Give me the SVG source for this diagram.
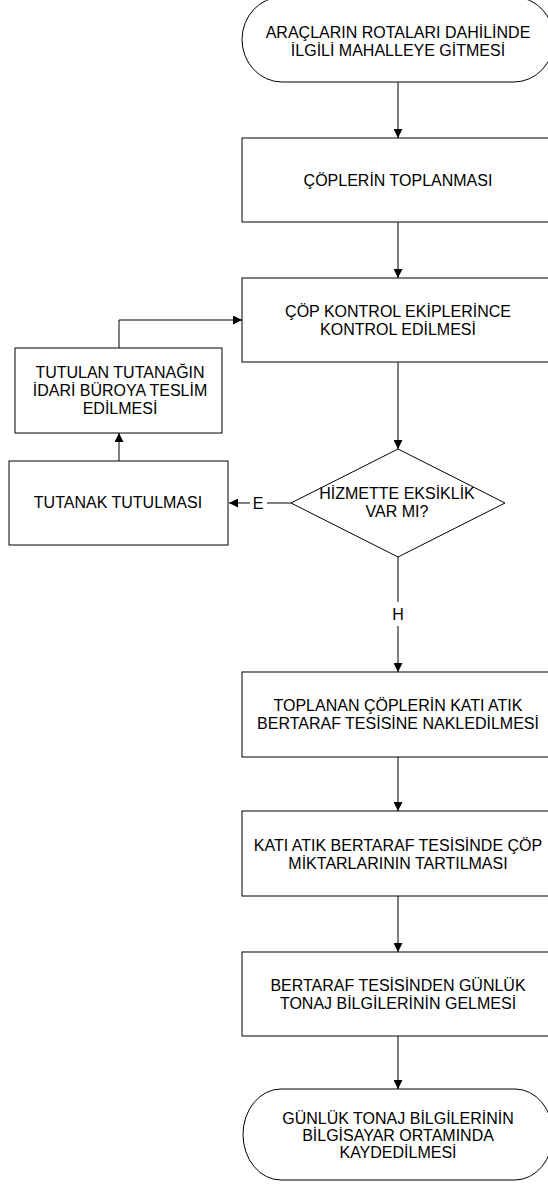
<svg xmlns="http://www.w3.org/2000/svg" width="548" height="1184" viewBox="0 0 548 1184">
<style>
.shape{fill:#fff;stroke:#000;stroke-width:1}
.t{font-family:"Liberation Sans",Arial,sans-serif;font-size:16px;fill:#000;text-anchor:middle}
.c{fill:none;stroke:#000;stroke-width:1}
</style>
<defs>
<marker id="ah" viewBox="0 0 10 10" refX="10" refY="5" markerWidth="10" markerHeight="9" markerUnits="userSpaceOnUse" orient="auto">
<path d="M0,0 L10,5 L0,10 z" fill="#000"/>
</marker>
</defs>
<rect width="548" height="1184" fill="#fff"/>
<g id="connectors">
<path class="c" d="M398,82 V138" marker-end="url(#ah)"/>
<path class="c" d="M398,222 V278" marker-end="url(#ah)"/>
<path class="c" d="M398,362 V449" marker-end="url(#ah)"/>
<path class="c" d="M291,503 H267"/>
<path class="c" d="M250,503 H229" marker-end="url(#ah)"/>
<text class="t" x="258" y="509">E</text>
<path class="c" d="M119,461 V433" marker-end="url(#ah)"/>
<path class="c" d="M119,348 V320 H242" marker-end="url(#ah)"/>
<path class="c" d="M398,557 V602"/>
<path class="c" d="M398,626 V672" marker-end="url(#ah)"/>
<text class="t" x="398" y="620">H</text>
<path class="c" d="M398,757 V811" marker-end="url(#ah)"/>
<path class="c" d="M398,896 V952" marker-end="url(#ah)"/>
<path class="c" d="M398,1036 V1089" marker-end="url(#ah)"/>
</g>
<g id="start">
<rect class="shape" x="242" y="-3" width="312" height="85" rx="40" ry="42.5"/>
<text class="t" x="398" y="38">ARAÇLARIN ROTALARI DAHİLİNDE</text>
<text class="t" x="398" y="56">İLGİLİ MAHALLEYE GİTMESİ</text>
</g>
<g id="toplanma">
<rect class="shape" x="242" y="138" width="312" height="84"/>
<text class="t" x="398" y="186">ÇÖPLERİN TOPLANMASI</text>
</g>
<g id="kontrol">
<rect class="shape" x="242" y="278" width="312" height="84"/>
<text class="t" x="398" y="317">ÇÖP KONTROL EKİPLERİNCE</text>
<text class="t" x="398" y="335">KONTROL EDİLMESİ</text>
</g>
<g id="karar">
<polygon class="shape" points="398,449 505,503 398,557 291,503"/>
<text class="t" x="397" y="499">HİZMETTE EKSİKLİK</text>
<text class="t" x="397" y="517">VAR MI?</text>
</g>
<g id="tutanak">
<rect class="shape" x="9" y="461" width="219" height="84"/>
<text class="t" x="118" y="508">TUTANAK TUTULMASI</text>
</g>
<g id="teslim">
<rect class="shape" x="15" y="348" width="207" height="85"/>
<text class="t" x="120" y="378">TUTULAN TUTANAĞIN</text>
<text class="t" x="120" y="396">İDARİ BÜROYA TESLİM</text>
<text class="t" x="120" y="414">EDİLMESİ</text>
</g>
<g id="nakil">
<rect class="shape" x="242" y="672" width="312" height="85"/>
<text class="t" x="398" y="711">TOPLANAN ÇÖPLERİN KATI ATIK</text>
<text class="t" x="398" y="729">BERTARAF TESİSİNE NAKLEDİLMESİ</text>
</g>
<g id="tartim">
<rect class="shape" x="242" y="811" width="312" height="85"/>
<text class="t" x="398" y="851">KATI ATIK BERTARAF TESİSİNDE ÇÖP</text>
<text class="t" x="398" y="869">MİKTARLARININ TARTILMASI</text>
</g>
<g id="tonaj">
<rect class="shape" x="242" y="952" width="312" height="84"/>
<text class="t" x="398" y="991">BERTARAF TESİSİNDEN GÜNLÜK</text>
<text class="t" x="398" y="1009">TONAJ BİLGİLERİNİN GELMESİ</text>
</g>
<g id="end">
<rect class="shape" x="243" y="1089" width="310" height="91" rx="38" ry="45.5"/>
<text class="t" x="398" y="1124">GÜNLÜK TONAJ BİLGİLERİNİN</text>
<text class="t" x="398" y="1141">BİLGİSAYAR ORTAMINDA</text>
<text class="t" x="398" y="1158">KAYDEDİLMESİ</text>
</g>
</svg>
